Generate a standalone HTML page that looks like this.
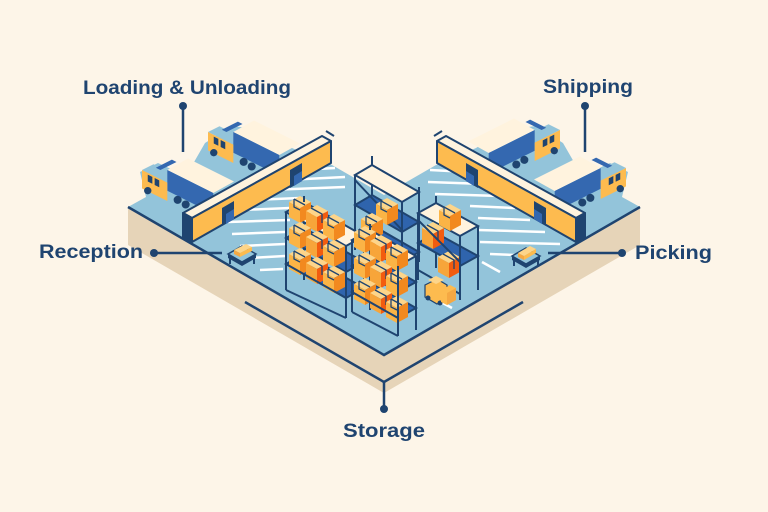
<!DOCTYPE html>
<html><head><meta charset="utf-8"><style>
html,body{margin:0;padding:0;background:#fdf5e8;}
svg{display:block}
text{font-family:"Liberation Sans",sans-serif;font-weight:bold;fill:#1f4470;font-size:19px}
</style></head><body>
<svg width="768" height="512" viewBox="0 0 768 512" xmlns="http://www.w3.org/2000/svg">
<defs>
<g id="box">
 <polygon points="0,0 11,-6 22,0 11,6" fill="#fdd58a"/>
 <polygon points="0,0 11,6 11,21 0,15" fill="#fbb446"/>
 <polygon points="11,6 22,0 22,15 11,21" fill="#f2891f"/>
 <polyline points="5,-3 5,5 11,8" fill="none" stroke="#1f4470" stroke-width="1.3"/>
 <polyline points="5,-3 16,3" fill="none" stroke="#1f4470" stroke-width="1.3"/>
</g>
<g id="rbox">
 <polygon points="0,0 11,-6 22,0 11,6" fill="#fdd58a"/>
 <polygon points="0,0 11,6 11,21 0,15" fill="#f7a53a"/>
 <polygon points="11,6 22,0 22,15 11,21" fill="#f25c0f"/>
 <polyline points="5,-3 16,3 16,12" fill="none" stroke="#1f4470" stroke-width="1.3"/>
</g>
<g id="truck">
 <polygon points="22,0 40,-10 80,10 62,20" fill="#fff3de"/>
 <polygon points="22,0 62,20 62,38 22,18" fill="#3468b0"/>
 <polygon points="0,0 10,-5 22,1 12,6" fill="#93c4da"/>
 <polygon points="12,-2 26,-9 30,-7 16,0" fill="#3468b0"/>
 <polygon points="0,0 22,11 22,27 0,16" fill="#fdbb4f"/>
 <polygon points="5,4 9,6 9,12 5,10" fill="#1f4470"/>
 <polygon points="11,7 15,9 15,15 11,13" fill="#1f4470"/>
 <circle cx="5" cy="18" r="3.2" fill="#1f4470"/>
 <circle cx="31" cy="26" r="3.5" fill="#1f4470"/>
 <circle cx="38" cy="30" r="3.5" fill="#1f4470"/>
</g>
</defs>

<!-- shadow -->
<polygon points="128,207 384,355 640,207 640,245 384,393 128,245" fill="#e6d4b8"/>

<!-- floor -->
<polygon points="128,207 146,197 140,172 158,163 186,176 205,143 232,126 264,130 292,148 332,165 384,195 436,165 476,148 504,130 536,126 563,143 582,176 610,163 628,172 622,197 640,207 384,355" fill="#93c4da"/>
<polyline points="128,207 384,355 640,207" fill="none" stroke="#1f4470" stroke-width="2.5"/>

<!-- stripes left -->
<g stroke="#fff" stroke-width="2.5">
<line x1="300" y1="170" x2="335" y2="168"/>
<line x1="285" y1="180" x2="345" y2="177"/>
<line x1="268" y1="190" x2="345" y2="187"/>
<line x1="252" y1="200" x2="300" y2="198"/>
<line x1="240" y1="210" x2="290" y2="208"/>
<line x1="228" y1="222" x2="290" y2="220"/>
<line x1="232" y1="234" x2="285" y2="232"/>
<line x1="240" y1="246" x2="285" y2="244"/>
<line x1="250" y1="258" x2="285" y2="256"/>
<line x1="260" y1="270" x2="283" y2="269"/>
</g>
<!-- stripes right -->
<g stroke="#fff" stroke-width="2.5">
<line x1="430" y1="170" x2="468" y2="172"/>
<line x1="428" y1="182" x2="485" y2="184"/>
<line x1="435" y1="194" x2="500" y2="196"/>
<line x1="470" y1="206" x2="515" y2="208"/>
<line x1="478" y1="218" x2="530" y2="220"/>
<line x1="478" y1="230" x2="545" y2="232"/>
<line x1="480" y1="242" x2="560" y2="244"/>
<line x1="490" y1="254" x2="540" y2="256"/>
<line x1="482" y1="262" x2="500" y2="272"/>
<line x1="430" y1="296" x2="452" y2="308"/>
</g>

<!-- trucks left -->
<use href="#truck" transform="translate(208,132) scale(1.15)"/>
<use href="#truck" transform="translate(142,170) scale(1.15)"/>
<!-- trucks right -->
<use href="#truck" transform="translate(560,130) scale(-1.15,1.15)"/>
<use href="#truck" transform="translate(626,168) scale(-1.15,1.15)"/>

<!-- left building -->
<g stroke="#1f4470" stroke-width="2" stroke-linejoin="round">
<polygon points="183,213 322,136 331,141 192,218" fill="#fff3de"/>
<polygon points="192,218 331,141 331,163 192,242" fill="#fdbb4f"/>
<polygon points="183,213 192,218 192,242 183,237" fill="#1f4470"/>
</g>
<polygon points="222,208 234,201 234,219 222,226" fill="#1f4470"/>
<polygon points="226,214 234,209 234,219 226,224" fill="#3468b0"/>
<polygon points="290,170 302,163 302,181 290,188" fill="#1f4470"/>
<polygon points="294,176 302,171 302,181 294,186" fill="#3468b0"/>
<line x1="326" y1="131" x2="334" y2="136" stroke="#1f4470" stroke-width="2"/>

<!-- right building -->
<g stroke="#1f4470" stroke-width="2" stroke-linejoin="round">
<polygon points="585,213 446,136 437,141 576,218" fill="#fff3de"/>
<polygon points="576,218 437,141 437,163 576,242" fill="#fdbb4f"/>
<polygon points="585,213 576,218 576,242 585,237" fill="#1f4470"/>
</g>
<polygon points="546,208 534,201 534,219 546,226" fill="#1f4470"/>
<polygon points="542,214 534,209 534,219 542,224" fill="#3468b0"/>
<polygon points="478,170 466,163 466,181 478,188" fill="#1f4470"/>
<polygon points="474,176 466,171 466,181 474,186" fill="#3468b0"/>
<line x1="442" y1="131" x2="434" y2="136" stroke="#1f4470" stroke-width="2"/>

<!-- center top rack -->
<g stroke="#1f4470" stroke-width="2">
<line x1="372" y1="160" x2="372" y2="240"/>
<line x1="419" y1="187" x2="419" y2="262"/>
<polygon points="355,205 372,195 419,222 402,232" fill="#2f64ad"/>
<polygon points="355,235 372,225 419,252 402,262" fill="#2f64ad"/>
<polygon points="355,175 372,165 419,192 402,202" fill="#fff3de"/>
<line x1="355" y1="175" x2="355" y2="250"/>
<line x1="402" y1="202" x2="402" y2="262"/>
<line x1="355" y1="180" x2="402" y2="230"/>
<line x1="372" y1="160" x2="372" y2="156"/>
</g>
<use href="#box" x="376" y="204"/>
<use href="#box" x="361" y="219"/>

<!-- right rack -->
<g stroke="#1f4470" stroke-width="2">
<line x1="436" y1="203" x2="436" y2="268"/>
<line x1="478" y1="226" x2="478" y2="290"/>
<polygon points="418,243 436,233 478,256 460,266" fill="#2f64ad"/>
<polygon points="418,213 436,203 478,226 460,236" fill="#fff3de"/>
</g>
<use href="#box" x="439" y="210"/>
<use href="#rbox" x="422" y="228"/>
<use href="#rbox" x="438" y="257"/>
<g stroke="#1f4470" stroke-width="2">
<line x1="418" y1="213" x2="418" y2="280"/>
<line x1="460" y1="236" x2="460" y2="300"/>
<line x1="418" y1="220" x2="460" y2="262"/>
<line x1="418" y1="270" x2="460" y2="294"/>
<line x1="436" y1="203" x2="436" y2="196"/>
</g>

<!-- forklift -->
<polygon points="425,285 437,279 447,285 447,298 437,304 425,297" fill="#fdbb4f" stroke="#1f4470" stroke-width="1.2"/>
<polygon points="428,280 436,276 444,280 436,284" fill="#fdd58a"/>
<circle cx="428" cy="298" r="2.5" fill="#1f4470"/>
<circle cx="440" cy="303" r="2.5" fill="#1f4470"/>
<polygon points="441,290 450,285 456,288 456,300 447,305 441,302" fill="#fdbb4f"/>
<polygon points="447,293 456,288 456,300 447,305" fill="#f5a843"/>

<!-- left rack -->
<g stroke="#1f4470" stroke-width="2">
<line x1="304" y1="202" x2="304" y2="280"/>
<line x1="364" y1="236" x2="364" y2="300"/>
<polygon points="286,212 304,202 364,236 346,246" fill="#fff3de"/>
<polygon points="286,238 304,228 364,262 346,272" fill="#2f64ad"/>
<polygon points="286,264 304,254 364,288 346,298" fill="#2f64ad"/>
</g>
<use href="#box" x="289" y="202"/>
<use href="#rbox" x="306" y="211"/>
<use href="#box" x="323" y="220"/>
<use href="#box" x="289" y="228"/>
<use href="#rbox" x="306" y="237"/>
<use href="#box" x="323" y="246"/>
<use href="#box" x="289" y="254"/>
<use href="#rbox" x="306" y="263"/>
<use href="#box" x="323" y="272"/>
<g stroke="#1f4470" stroke-width="2">
<line x1="286" y1="212" x2="286" y2="290"/>
<line x1="346" y1="246" x2="346" y2="318"/>
<line x1="286" y1="264" x2="346" y2="298"/>
<line x1="286" y1="290" x2="346" y2="318"/>
<line x1="304" y1="202" x2="304" y2="196"/>
</g>

<!-- center bottom rack -->
<g stroke="#1f4470" stroke-width="2">
<line x1="370" y1="230" x2="370" y2="310"/>
<line x1="416" y1="256" x2="416" y2="330"/>
<polygon points="352,240 370,230 416,256 398,266" fill="#fff3de"/>
<polygon points="352,266 370,256 416,282 398,292" fill="#2f64ad"/>
<polygon points="352,292 370,282 416,308 398,318" fill="#2f64ad"/>
</g>
<use href="#box" x="354" y="232"/>
<use href="#rbox" x="370" y="241"/>
<use href="#box" x="386" y="250"/>
<use href="#box" x="354" y="258"/>
<use href="#rbox" x="370" y="267"/>
<use href="#box" x="386" y="276"/>
<use href="#box" x="354" y="284"/>
<use href="#rbox" x="370" y="293"/>
<use href="#box" x="386" y="302"/>
<g stroke="#1f4470" stroke-width="2">
<line x1="352" y1="240" x2="352" y2="312"/>
<line x1="398" y1="266" x2="398" y2="336"/>
<line x1="352" y1="292" x2="398" y2="318"/>
<line x1="352" y1="312" x2="398" y2="336"/>
<line x1="370" y1="230" x2="370" y2="224"/>
</g>

<!-- reception table -->
<polygon points="228,254 242,246 256,254 242,262" fill="#93c4da" stroke="#1f4470" stroke-width="1.5"/>
<polygon points="228,254 242,262 242,266 228,258" fill="#1f4470"/>
<polygon points="242,262 256,254 256,258 242,266" fill="#1f4470"/>
<line x1="230" y1="257" x2="230" y2="264" stroke="#1f4470" stroke-width="2"/>
<line x1="254" y1="257" x2="254" y2="264" stroke="#1f4470" stroke-width="2"/>
<polygon points="234,250 246,244 252,247 240,253" fill="#fdd58a"/>
<polygon points="234,250 240,253 240,257 234,254" fill="#f5a843"/>
<polygon points="240,253 252,247 252,251 240,257" fill="#fdbb4f"/>
<!-- picking table -->
<polygon points="512,256 526,248 540,256 526,264" fill="#93c4da" stroke="#1f4470" stroke-width="1.5"/>
<polygon points="512,256 526,264 526,268 512,260" fill="#1f4470"/>
<polygon points="526,264 540,256 540,260 526,268" fill="#1f4470"/>
<line x1="514" y1="259" x2="514" y2="266" stroke="#1f4470" stroke-width="2"/>
<line x1="538" y1="259" x2="538" y2="266" stroke="#1f4470" stroke-width="2"/>
<polygon points="518,253 530,246 536,249 524,256" fill="#fdd58a"/>
<polygon points="518,253 524,256 524,260 518,257" fill="#f5a843"/>
<polygon points="524,256 536,249 536,253 524,260" fill="#fdbb4f"/>

<!-- connectors -->
<g stroke="#1f4470" stroke-width="2.5" fill="none">
<line x1="183" y1="106" x2="183" y2="152"/>
<line x1="585" y1="106" x2="585" y2="152"/>
<line x1="154" y1="253" x2="222" y2="253"/>
<line x1="622" y1="253" x2="548" y2="253"/>
<polyline points="245,302 384,382 523,302"/>
<line x1="384" y1="382" x2="384" y2="409"/>
</g>
<g fill="#1f4470">
<circle cx="183" cy="106" r="4"/>
<circle cx="585" cy="106" r="4"/>
<circle cx="154" cy="253" r="4"/>
<circle cx="622" cy="253" r="4"/>
<circle cx="384" cy="409" r="4"/>
</g>

<text x="83" y="94" textLength="208" lengthAdjust="spacingAndGlyphs">Loading &amp; Unloading</text>
<text x="543" y="93" textLength="90" lengthAdjust="spacingAndGlyphs">Shipping</text>
<text x="39" y="258" textLength="104" lengthAdjust="spacingAndGlyphs">Reception</text>
<text x="635" y="259" textLength="77" lengthAdjust="spacingAndGlyphs">Picking</text>
<text x="343" y="437" textLength="82" lengthAdjust="spacingAndGlyphs">Storage</text>
</svg>
</body></html>
